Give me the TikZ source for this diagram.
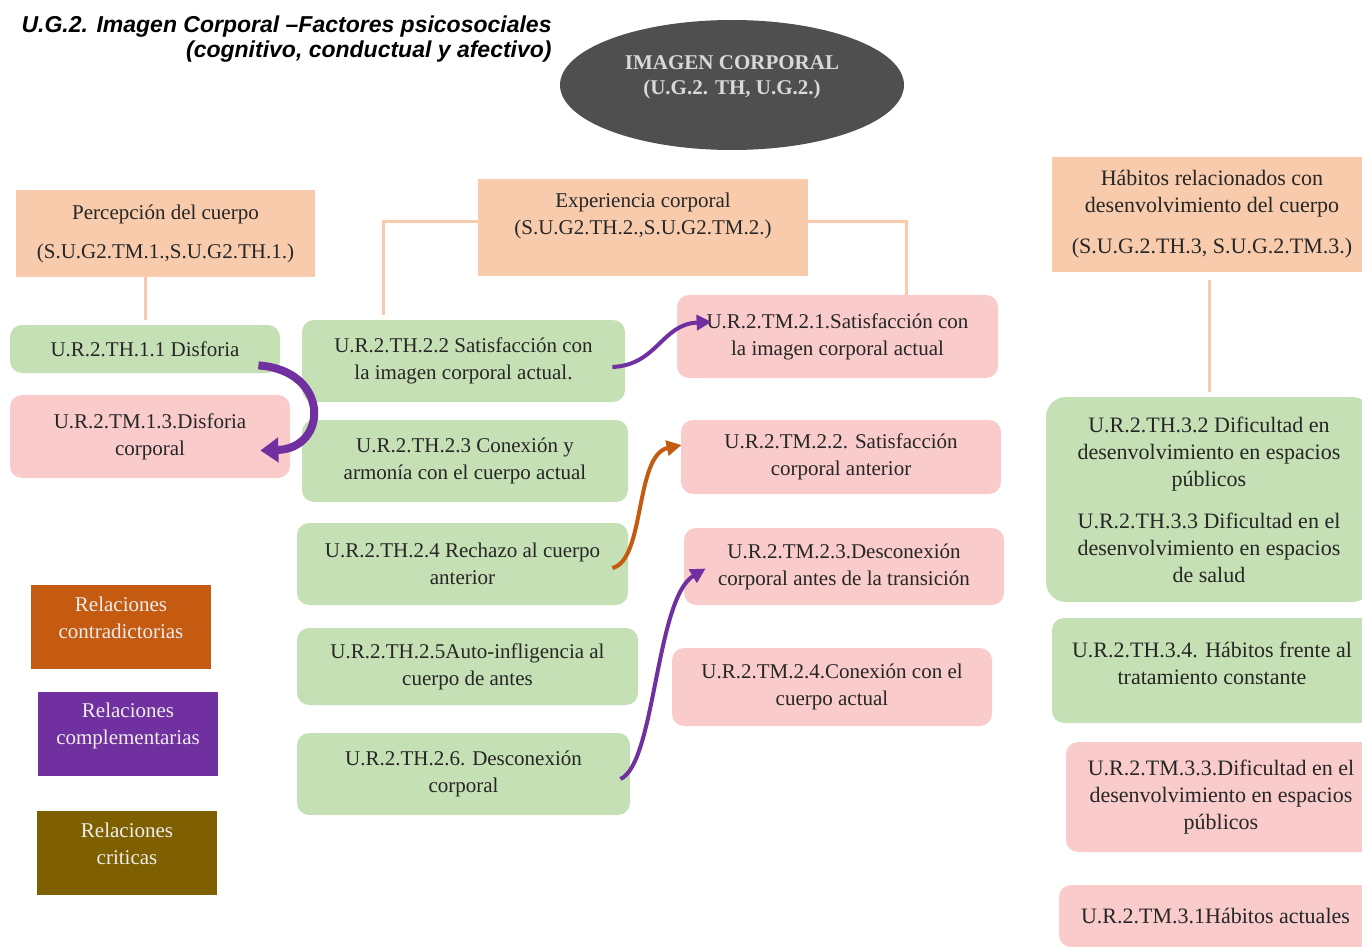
\documentclass[tikz,border=0pt]{standalone}
\usepackage{fontspec}
\setmainfont{Liberation Serif}
\newfontfamily\titlefont{Liberation Sans}
\usetikzlibrary{shapes.geometric,arrows.meta,calc}
\definecolor{boxgreen}{HTML}{C5E0B4}
\definecolor{boxpink}{HTML}{F9CBCB}
\definecolor{boxpeach}{HTML}{F8CBAD}
\definecolor{ellgray}{HTML}{4F4F4F}
\definecolor{elltext}{HTML}{D9D9D9}
\definecolor{textgray}{HTML}{262626}
\definecolor{legtext}{HTML}{EDEDED}
\definecolor{relorange}{HTML}{C55A11}
\definecolor{relpurple}{HTML}{7030A0}
\definecolor{relbrown}{HTML}{7F6000}
\begin{document}
\begin{tikzpicture}[x=0.5pt,y=-0.5pt]
	\tikzstyle{every node}+=[inner sep=0pt, align=center, text=textgray, font=\fontsize{10.5}{13.5}\selectfont]
	\tikzstyle{headbox}=[fill=boxpeach]
	\tikzstyle{greenbox}=[fill=boxgreen, rounded corners=6pt]
	\tikzstyle{pinkbox}=[fill=boxpink, rounded corners=6pt]
	\tikzstyle{rightcol}=[font=\fontsize{11}{13.5}\selectfont]
	\tikzstyle{legendbox}=[text=legtext, minimum width=90pt, minimum height=42pt]
	\tikzstyle{link}=[draw=boxpeach, line width=1.5pt]
	\tikzstyle{rel}=[line width=2pt, -{Triangle[length=7.5pt,width=7.5pt]}]
	\useasboundingbox (0,0) rectangle (1362,947);
	\node[anchor=east, align=right, text=black, font=\titlefont\bfseries\itshape\fontsize{11.5}{12.5}\selectfont] (title) at (552,39) {U.G.2. Imagen Corporal –Factores psicosociales\\(cognitivo, conductual y afectivo)};
	\node[ellipse, fill=ellgray, minimum width=172pt, minimum height=65pt, text=elltext, font=\bfseries\fontsize{10.5}{12.5}\selectfont] (img) at (732,85) {IMAGEN CORPORAL\\(U.G.2. TH, U.G.2.)\\[-3pt]\mbox{}};
	\node[headbox, minimum width=149.5pt, minimum height=43.5pt] (perc) at (165.5,233.5) {Percepción del cuerpo\\[6pt](S.U.G2.TM.1.,S.U.G2.TH.1.)};
	\node[headbox, minimum width=165pt, minimum height=48.5pt] (exper) at (643,227.5) {Experiencia corporal\\(S.U.G2.TH.2.,S.U.G2.TM.2.)\\[0pt]\mbox{}};
	\node[headbox, rightcol, minimum width=160pt, minimum height=57.5pt] (hab) at (1212,214.5) {Hábitos relacionados con\\desenvolvimiento del cuerpo\\[7pt](S.U.G.2.TH.3, S.U.G.2.TM.3.)};
	\node[greenbox, minimum width=135pt, minimum height=24pt] (dis) at (145,349) {U.R.2.TH.1.1 Disforia};
	\node[pinkbox, minimum width=140pt, minimum height=41.5pt] (tm13) at (150,436.5) {U.R.2.TM.1.3.Disforia\\corporal};
	\node[greenbox, minimum width=161.5pt, minimum height=41pt] (th22) at (463.5,361) {U.R.2.TH.2.2 Satisfacción con\\la imagen corporal actual.};
	\node[greenbox, minimum width=163pt, minimum height=41pt] (th23) at (465,461) {U.R.2.TH.2.3 Conexión y\\armonía con el cuerpo actual};
	\node[greenbox, minimum width=165.5pt, minimum height=41pt] (th24) at (462.5,564) {U.R.2.TH.2.4 Rechazo al cuerpo\\anterior};
	\node[greenbox, minimum width=170.5pt, minimum height=38.5pt] (th25) at (467.5,666.5) {U.R.2.TH.2.5Auto-infligencia al\\cuerpo de antes};
	\node[greenbox, minimum width=166.5pt, minimum height=41pt] (th26) at (463.5,774) {U.R.2.TH.2.6. Desconexión\\corporal};
	\node[pinkbox, minimum width=160.5pt, minimum height=41.5pt] (tm21) at (837.5,336.5) {U.R.2.TM.2.1.Satisfacción con\\la imagen corporal actual};
	\node[pinkbox, minimum width=160pt, minimum height=37pt] (tm22) at (841,457) {U.R.2.TM.2.2. Satisfacción\\corporal anterior};
	\node[pinkbox, minimum width=160pt, minimum height=38.5pt] (tm23) at (844,566.5) {U.R.2.TM.2.3.Desconexión\\corporal antes de la transición};
	\node[pinkbox, minimum width=160pt, minimum height=39pt] (tm24) at (832,687) {U.R.2.TM.2.4.Conexión con el\\cuerpo actual};
	\node[greenbox, rightcol, rounded corners=10pt, minimum width=163pt, minimum height=102.5pt] (th32) at (1209,499.5) {U.R.2.TH.3.2 Dificultad en\\desenvolvimiento en espacios\\públicos\\[7.5pt]U.R.2.TH.3.3 Dificultad en el\\desenvolvimiento en espacios\\de salud};
	\node[greenbox, rightcol, minimum width=160pt, minimum height=52.5pt] (th34) at (1212,670.5) {U.R.2.TH.3.4. Hábitos frente al\\tratamiento constante\\[-6pt]\mbox{}};
	\node[pinkbox, rightcol, minimum width=155pt, minimum height=55pt] (tm33) at (1221,797) {U.R.2.TM.3.3.Dificultad en el\\desenvolvimiento en espacios\\públicos};
	\node[pinkbox, rightcol, minimum width=156.5pt, minimum height=31pt] (tm31) at (1215.5,916) {U.R.2.TM.3.1Hábitos actuales};
	\node[legendbox, fill=relorange] (lcontra) at (121,627) {Relaciones\\contradictorias\\[-4pt]\mbox{}};
	\node[legendbox, fill=relpurple] (lcompl) at (128,733.5) {Relaciones\\complementarias\\[-4pt]\mbox{}};
	\node[legendbox, fill=relbrown] (lcrit) at (127,853) {Relaciones\\criticas\\[-4pt]\mbox{}};
	\draw[link] (perc.south -| dis.north) -- ([yshift=2.5pt]dis.north);
	\draw[link] ([yshift=2.75pt]exper.west) -| ([xshift=-40.25pt,yshift=2.5pt]th22.north);
	\draw[link] ([yshift=2.75pt]exper.east) -| ([xshift=34.25pt]tm21.north);
	\draw[link] ([yshift=-4pt]hab.south -| th32.north) -- ([yshift=2.5pt]th32.north);
	\draw[relpurple, line width=4pt, -{Triangle[length=9pt,width=12pt]}] ($(dis.south east)+(-22,-8)$) .. controls +(72,5) and +(68,-2) .. ($(tm13.east)+(-30,14)$);
	\draw[rel, relpurple] ($(th22.east)+(-13,6)$) .. controls +(45,-2) and +(-50,2) .. ($(tm21.west)+(35,-14.5)$);
	\draw[rel, relorange] ($(th24.east)+(-16,4)$) .. controls +(33,-8) and +(-47,10) .. ($(tm22.west)+(1,-12)$);
	\draw[rel, relpurple] ($(th26.east)+(-10,5)$) .. controls +(35,-15) and +(-50,30) .. ($(tm23.west)+(22,2)$);
\end{tikzpicture}
\end{document}
